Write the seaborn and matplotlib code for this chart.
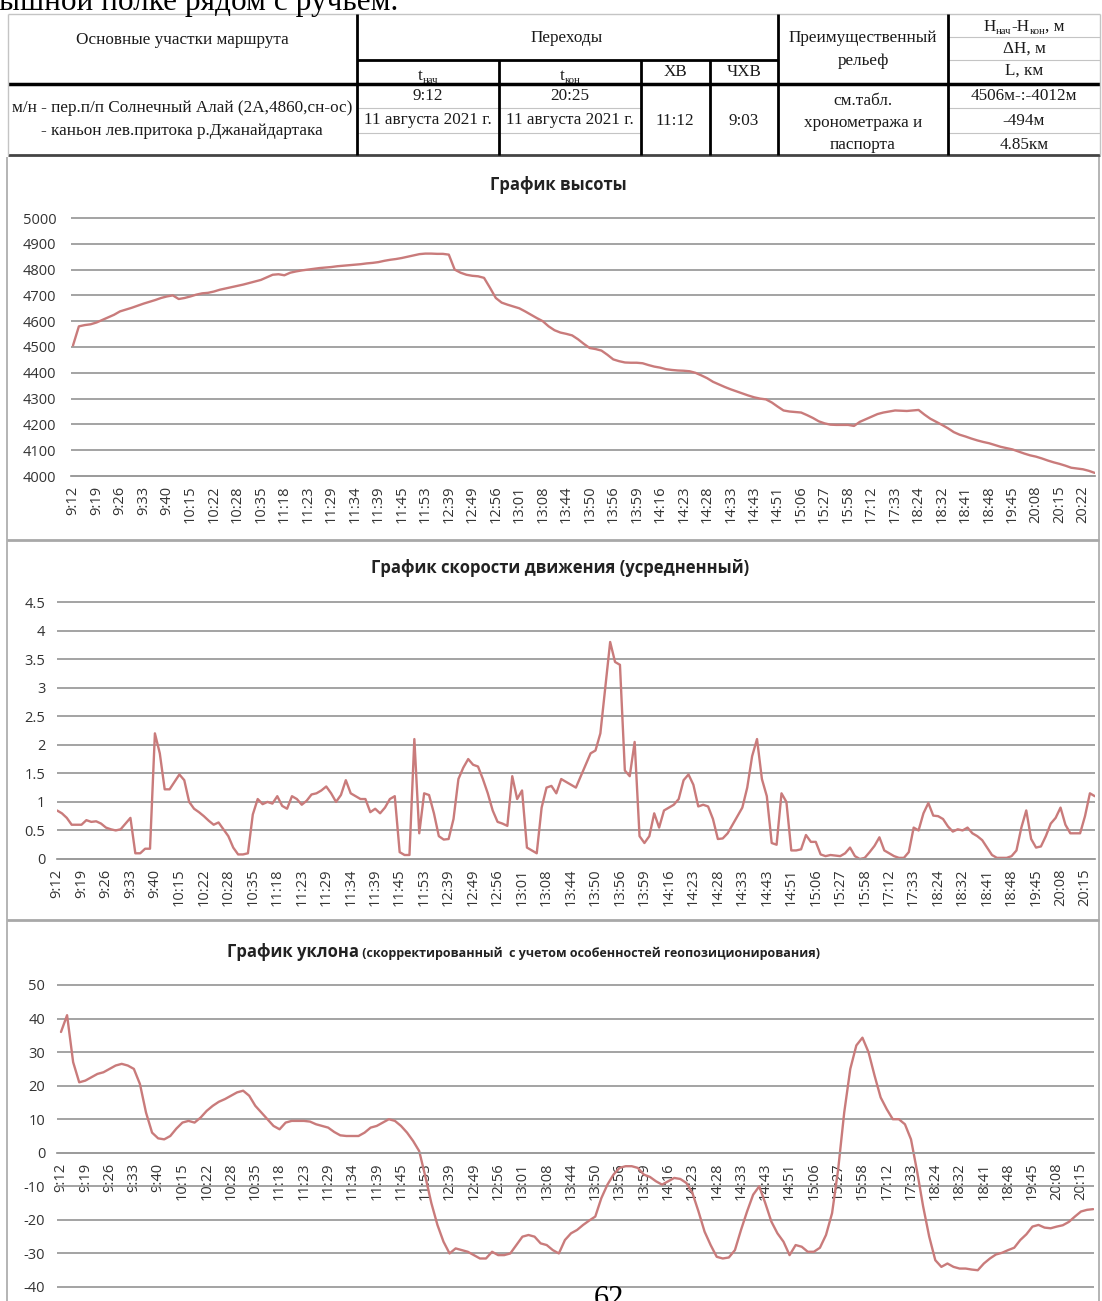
import matplotlib
matplotlib.use("Agg")
import matplotlib.pyplot as plt
from matplotlib.lines import Line2D
import numpy as np
import pandas as pd
import seaborn as sns

# ---------------- data ----------------
labels_alt = ["9:12", "9:19", "9:26", "9:33", "9:40", "10:15", "10:22", "10:28", "10:35", "11:18",
              "11:23", "11:29", "11:34", "11:39", "11:45", "11:53", "12:39", "12:49", "12:56", "13:01",
              "13:08", "13:44", "13:50", "13:56", "13:59", "14:16", "14:23", "14:28", "14:33", "14:43",
              "14:51", "15:06", "15:27", "15:58", "17:12", "17:33", "18:24", "18:32", "18:41", "18:48",
              "19:45", "20:08", "20:15", "20:22"]
labels_speed = labels_alt[:-1]
labels_slope = labels_alt[:-1]

altitude = [4506, 4580, 4585, 4588, 4595, 4605, 4615, 4625, 4638, 4645, 4652, 4660,
            4668, 4675, 4682, 4690, 4696, 4700, 4686, 4690, 4696, 4703, 4708, 4710,
            4715, 4722, 4727, 4732, 4737, 4742, 4748, 4754, 4760, 4770, 4780, 4782,
            4778, 4788, 4793, 4797, 4800, 4803, 4806, 4808, 4810, 4813, 4815, 4817,
            4819, 4821, 4824, 4826, 4829, 4834, 4838, 4841, 4845, 4850, 4855, 4860,
            4862, 4862, 4861, 4861, 4858, 4800, 4788, 4780, 4776, 4774, 4768, 4730,
            4690, 4672, 4664, 4657, 4650, 4638, 4625, 4612, 4600, 4580, 4565, 4556,
            4551, 4545, 4530, 4512, 4496, 4492, 4486, 4470, 4452, 4445, 4440, 4439,
            4439, 4437, 4430, 4424, 4420, 4414, 4411, 4409, 4408, 4406, 4400, 4390,
            4379, 4365, 4355, 4345, 4336, 4328, 4320, 4312, 4305, 4300, 4297, 4285,
            4269, 4254, 4250, 4248, 4246, 4236, 4225, 4212, 4204, 4199, 4198, 4198,
            4198, 4194, 4210, 4220, 4230, 4240, 4246, 4250, 4254, 4253, 4252, 4254,
            4256, 4238, 4222, 4210, 4198, 4185, 4170, 4160, 4153, 4145, 4138, 4132,
            4127, 4120, 4113, 4108, 4103, 4095, 4087, 4080, 4075, 4068, 4060, 4053,
            4047, 4040, 4032, 4029, 4026, 4020, 4012]

speed = [0.85, 0.80, 0.72, 0.60, 0.60, 0.60, 0.68, 0.65, 0.66, 0.62,
         0.55, 0.52, 0.50, 0.52, 0.62, 0.72, 0.10, 0.10, 0.18, 0.18,
         2.20, 1.85, 1.22, 1.22, 1.35, 1.48, 1.38, 1.00, 0.88, 0.82,
         0.75, 0.67, 0.60, 0.64, 0.52, 0.40, 0.20, 0.08, 0.08, 0.10,
         0.78, 1.05, 0.96, 1.00, 0.97, 1.10, 0.93, 0.88, 1.10, 1.05,
         0.95, 1.02, 1.13, 1.15, 1.20, 1.27, 1.15, 1.00, 1.12, 1.38,
         1.15, 1.10, 1.05, 1.05, 0.82, 0.88, 0.80, 0.90, 1.05, 1.10,
         0.12, 0.07, 0.07, 2.10, 0.45, 1.15, 1.12, 0.80, 0.40, 0.34,
         0.35, 0.70, 1.40, 1.60, 1.75, 1.65, 1.62, 1.40, 1.15, 0.85,
         0.65, 0.62, 0.58, 1.45, 1.05, 1.20, 0.20, 0.15, 0.10, 0.90,
         1.25, 1.28, 1.15, 1.40, 1.35, 1.30, 1.25, 1.45, 1.65, 1.85,
         1.90, 2.20, 3.00, 3.80, 3.45, 3.40, 1.55, 1.45, 2.05, 0.40,
         0.28, 0.40, 0.80, 0.55, 0.85, 0.90, 0.95, 1.05, 1.38, 1.48,
         1.30, 0.92, 0.95, 0.92, 0.70, 0.35, 0.36, 0.45, 0.60, 0.75,
         0.90, 1.25, 1.80, 2.10, 1.40, 1.10, 0.28, 0.25, 1.15, 1.00,
         0.15, 0.15, 0.17, 0.42, 0.30, 0.30, 0.08, 0.05, 0.07, 0.06,
         0.05, 0.10, 0.20, 0.05, 0.00, 0.02, 0.12, 0.23, 0.38, 0.15,
         0.10, 0.05, 0.02, 0.02, 0.12, 0.55, 0.50, 0.80, 0.98, 0.76,
         0.75, 0.70, 0.57, 0.48, 0.52, 0.50, 0.55, 0.45, 0.40, 0.33,
         0.20, 0.07, 0.02, 0.02, 0.02, 0.05, 0.15, 0.55, 0.85, 0.35,
         0.20, 0.22, 0.40, 0.62, 0.72, 0.90, 0.60, 0.45, 0.45, 0.45,
         0.75, 1.15, 1.10]

slope = [36, 41, 27, 21, 21.5, 22.5, 23.5, 24, 25, 26, 26.5, 26,
         25, 20.5, 12, 6, 4.3, 4, 5, 7.2, 9, 9.5, 9, 10.5,
         12.5, 14, 15.2, 16, 17, 18, 18.5, 17, 14, 12, 10, 8,
         7, 9, 9.5, 9.5, 9.5, 9.3, 8.5, 8, 7.5, 6.2, 5.2, 5,
         5, 5, 6, 7.5, 8, 9, 10, 9.5, 8, 6, 3.5, 0.5,
         -7, -15, -21.5, -26.5, -30, -28.5, -29, -29.5, -30.5, -31.5, -31.5, -29.5,
         -30.5, -30.5, -30, -27.5, -25, -24.5, -25, -27, -27.5, -29, -30, -26,
         -24, -23, -21.5, -20.2, -19, -13.5, -9.5, -6.5, -4.5, -4, -4, -4.5,
         -6.5, -7.2, -8.5, -9.5, -8.5, -7.5, -7.8, -9, -12, -17.5, -23.5, -27.5,
         -31, -31.5, -31.2, -29, -23, -17.5, -12.5, -10, -15, -20.5, -24, -26.5,
         -30.5, -27.5, -28, -29.5, -29.5, -28.3, -24.5, -18, -5, 12, 25, 32,
         34.3, 30, 23, 16.5, 13, 10, 10, 8.5, 4, -5.5, -16, -25,
         -32, -34, -33, -34, -34.5, -34.5, -34.8, -35, -33, -31.5, -30.3, -29.8,
         -29, -28.3, -26, -24.3, -22, -21.5, -22.3, -22.5, -22, -21.6, -20.6, -19,
         -17.5, -17, -16.8]

alt_ticks = list(range(4000, 5001, 100))
speed_ticks = [0, 0.5, 1, 1.5, 2, 2.5, 3, 3.5, 4, 4.5]
speed_ticklabels = ["0", "0.5", "1", "1.5", "2", "2.5", "3", "3.5", "4", "4.5"]
slope_ticks = list(range(-40, 51, 10))

title_alt = "График высоты"
title_speed = "График скорости движения (усредненный)"
title_slope_main = "График уклона"
title_slope_note = " (скорректированный  с учетом особенностей геопозиционирования)"

# ---------------- style ----------------
sns.set_theme(style="white")
plt.rcParams['font.family'] = ['Open Sans', 'DejaVu Sans']
SERIF = ['Liberation Serif', 'DejaVu Serif']
LINE = '#C97B7B'
GRID = '#9C9C9C'
TXT = '#333333'

W, H = 1102, 1301
fig = plt.figure(figsize=(W / 100, H / 100), dpi=100)


def fx(px):
    return px / W


def fy(py):
    return 1 - py / H


def hline(y, x0, x1, lw=1.0, color='black'):
    fig.add_artist(Line2D([fx(x0), fx(x1)], [fy(y), fy(y)], transform=fig.transFigure,
                          color=color, lw=lw, solid_capstyle='butt'))


def vline(x, y0, y1, lw=1.0, color='black'):
    fig.add_artist(Line2D([fx(x), fx(x)], [fy(y0), fy(y1)], transform=fig.transFigure,
                          color=color, lw=lw, solid_capstyle='butt'))


def chart(values, labels, step, left, right, x0, xlast, ytop, ybot, vtop, vbot,
          yticks, yticklabels, ypad, axis_at):
    n_lab = len(labels)
    ppi = (xlast - x0) / ((n_lab - 1) * step)
    xmin = (left - x0) / ppi
    xmax = (right - x0) / ppi
    pad = 5
    upp = (vtop - vbot) / (ybot - ytop)
    ax = fig.add_axes([left / W, 1 - (ybot + pad) / H, (right - left) / W, (ybot - ytop + 2 * pad) / H])
    df = pd.DataFrame({'i': np.arange(len(values)), 'v': values})
    sns.lineplot(data=df, x='i', y='v', ax=ax, color=LINE, linewidth=1.7)
    for s in ['top', 'right', 'left']:
        ax.spines[s].set_visible(False)
    ax.spines['bottom'].set_position(('data', axis_at))
    ax.spines['bottom'].set_color(GRID)
    ax.spines['bottom'].set_linewidth(1.3)
    ax.set_xlim(xmin, xmax)
    ax.set_ylim(vbot - pad * upp, vtop + pad * upp)
    ax.set_xticks(np.arange(n_lab) * step)
    ax.set_xticklabels(labels)
    ax.set_yticks(yticks)
    ax.set_yticklabels(yticklabels)
    ax.tick_params(axis='x', length=0, pad=7, labelrotation=90, labelsize=10.5, labelcolor=TXT)
    ax.tick_params(axis='y', length=0, pad=ypad, labelsize=10.5, labelcolor=TXT)
    ax.yaxis.grid(True, color=GRID, lw=1.3)
    ax.xaxis.grid(False)
    ax.set_axisbelow(True)
    ax.set_xlabel('')
    ax.set_ylabel('')
    ax.patch.set_alpha(0)
    return ax


# ---------------- charts ----------------
chart(altitude, labels_alt, 4, 71, 1095, 73, 1083, 218, 476, 5000, 4000,
      alt_ticks, [str(t) for t in alt_ticks], 10.5, 4000)
chart(speed, labels_speed, 5, 57, 1095, 57, 1085, 602, 859, 4.5, 0,
      speed_ticks, speed_ticklabels, 8.5, 0)
chart(slope, labels_slope, 4, 57, 1094, 61, 1081, 985, 1287, 50, -40,
      slope_ticks, [str(t) for t in slope_ticks], 8.5, 0)

fig.text(fx(558), fy(185), title_alt, ha='center', va='center', fontsize=12, fontweight='bold', color='#222222')
fig.text(fx(560), fy(568), title_speed, ha='center', va='center', fontsize=12, fontweight='bold', color='#222222')
fig.text(fx(359), fy(952), title_slope_main, ha='right', va='center', fontsize=12, fontweight='bold', color='#222222')
fig.text(fx(359), fy(953), title_slope_note, ha='left', va='center', fontsize=9, fontweight='bold', color='#222222')

# chart frames
BOX = '#A8A8A8'
vline(7, 157, 1301, 1.2, BOX)
vline(1099, 157, 1301, 1.2, BOX)
hline(540, 7, 1099, 2.0, BOX)
hline(920, 7, 1099, 2.0, BOX)

# ---------------- table ----------------
renderer = fig.canvas.get_renderer()
TS = 12.3


def ttext(xc, yc, s, size=TS):
    fig.text(fx(xc), fy(yc), s, ha='center', va='center', fontsize=size, family=SERIF, color='#1a1a1a')


def rich(xc, ybase, parts, size=TS):
    objs = []
    for s, sub in parts:
        t = fig.text(0, 0, s, fontsize=size * 0.62 if sub else size, family=SERIF,
                     va='baseline', ha='left', color='#1a1a1a')
        objs.append((t, sub))
    widths = [t.get_window_extent(renderer).width for t, _ in objs]
    x = xc - sum(widths) / 2
    for (t, sub), w in zip(objs, widths):
        t.set_position((fx(x), fy(ybase + (3 if sub else 0))))
        x += w


LIGHT = '#C4C4C4'
hline(14, 8, 1100, 1.0, LIGHT)
hline(60, 357, 778, 2.0)
hline(84, 8, 1100, 2.5)
hline(155, 8, 1100, 2.0, '#444444')
hline(37, 948, 1100, 0.8, LIGHT)
hline(60, 948, 1100, 0.8, LIGHT)
for yy in (108, 133):
    hline(yy, 357, 641, 0.8, LIGHT)
    hline(yy, 948, 1100, 0.8, LIGHT)
vline(8, 14, 155, 1.0, LIGHT)
vline(1100, 14, 155, 1.0, LIGHT)
for xx in (357, 778, 948):
    vline(xx, 14, 155, 2.0)
for xx in (499, 641, 710):
    vline(xx, 60, 155, 2.0)

ttext(182, 40, "Основные участки маршрута")
ttext(567, 38, "Переходы")
rich(428, 80, [("t", False), ("нач", True)])
rich(570, 80, [("t", False), ("кон", True)])
ttext(675, 72, "ХВ")
ttext(744, 72, "ЧХВ")
ttext(863, 38, "Преимущественный")
ttext(863, 61, "рельеф")
rich(1024, 31, [("H", False), ("нач", True), ("-H", False), ("кон", True), (", м", False)])
ttext(1024, 49, "ΔH, м")
ttext(1024, 71, "L, км")

ttext(182, 108, "м/н - пер.п/п Солнечный Алай (2А,4860,сн-ос)")
ttext(182, 131, "- каньон лев.притока р.Джанайдартака")
ttext(428, 96, "9:12")
ttext(428, 120, "11 августа 2021 г.")
ttext(570, 96, "20:25")
ttext(570, 120, "11 августа 2021 г.")
ttext(675, 121, "11:12")
ttext(744, 121, "9:03")
ttext(863, 101, "см.табл.")
ttext(863, 123, "хронометража и")
ttext(863, 145, "паспорта")
ttext(1024, 96, "4506м-:-4012м")
ttext(1024, 121, "-494м")
ttext(1024, 145, "4.85км")

# page text fragments
fig.text(fx(-1), fy(10), "ышной полке рядом с ручьем.", ha='left', va='baseline',
         fontsize=22.5, family=SERIF, color='black')
fig.text(fx(609), fy(1285), "62", ha='center', va='top', fontsize=22, family=SERIF, color='black')

fig.savefig("out.png", dpi=100, facecolor='white')
